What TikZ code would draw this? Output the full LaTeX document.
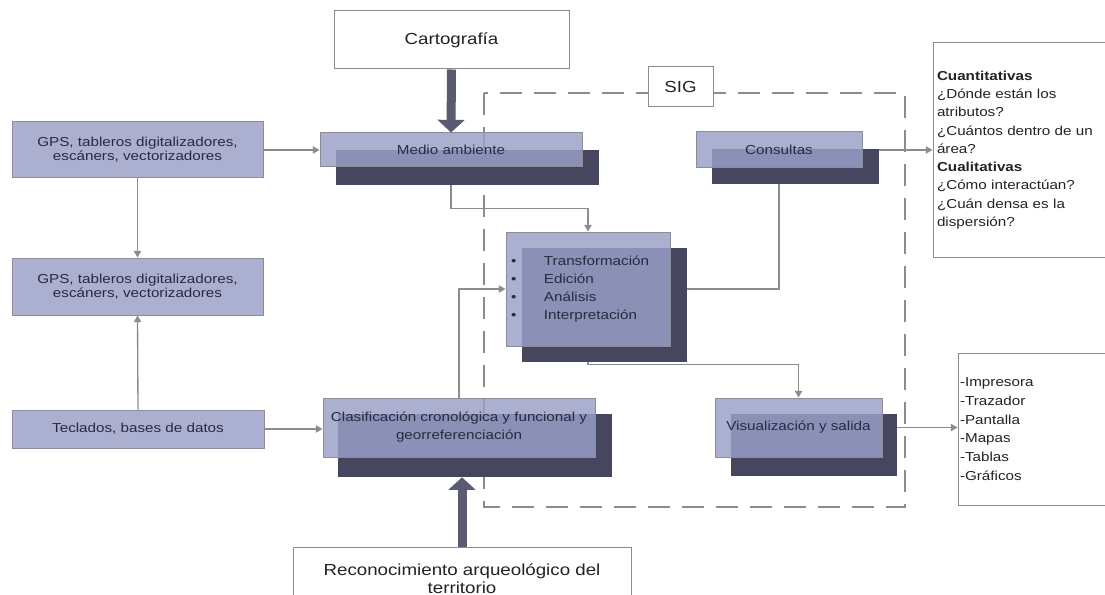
\documentclass[tikz,border=0pt]{standalone}
\usepackage{fontspec}
\setmainfont[FakeStretch=1.17]{Liberation Sans}
\usetikzlibrary{arrows.meta,calc}
\definecolor{lightfill}{RGB}{154,160,200}
\definecolor{shadowfill}{RGB}{70,70,95}
\definecolor{boxline}{RGB}{140,140,155}
\definecolor{conngray}{RGB}{140,140,140}
\definecolor{thickc}{RGB}{90,90,112}
\definecolor{navytext}{RGB}{40,42,66}
\definecolor{darktext}{RGB}{35,35,35}
\pgfdeclarelayer{bg}
\pgfsetlayers{bg,main}
\begin{document}
\begin{tikzpicture}[x=0.75pt,y=-0.75pt,
 lightbox/.style={draw=boxline,line width=0.75pt,fill=lightfill,fill opacity=0.83,text opacity=1,text=navytext,align=center,inner sep=0pt,font=\fontsize{9.75}{10.5}\selectfont},
 shadowbox/.style={fill=shadowfill,draw=none,inner sep=0pt},
 whitebox/.style={draw=conngray,line width=0.75pt,fill=white,text=darktext,inner sep=0pt},
 conn/.style={draw=conngray,line width=1pt},
 connarrow/.style={conn,-{Triangle[width=5.5pt,length=5pt]}},
 thickarrow/.style={draw=thickc,line width=6.75pt,-{Triangle[width=20pt,length=9.5pt]}},
 sigframe/.style={draw=conngray,line width=1.9pt,dash pattern=on 16.5pt off 9pt}
]
\useasboundingbox (0,0) rectangle (1105,595);

\begin{pgfonlayer}{bg}
\fill[white] (0,0) rectangle (1105,595);
\draw[sigframe] (484,93) rectangle (905,507);
\end{pgfonlayer}

% top and bottom white boxes
\node[whitebox,minimum width=176.25pt,minimum height=43.5pt,font=\fontsize{12}{14}\selectfont] (carto) at (451.5,40) {Cartografía};
\node[whitebox,minimum width=48.75pt,minimum height=30pt,font=\fontsize{12}{14}\selectfont] (sig) at (680.5,87) {SIG};
\node[whitebox,minimum width=253.5pt,minimum height=48pt,align=center,font=\fontsize{12}{13.5}\selectfont] (rec) at (462,579) {Reconocimiento arqueológico del\\territorio};

% left input boxes
\node[lightbox,minimum width=188.25pt,minimum height=42pt] (g1) at (137.5,150) {GPS, tableros digitalizadores,\\escáners, vectorizadores};
\node[lightbox,minimum width=188.25pt,minimum height=42.75pt] (g2) at (137.5,286.5) {GPS, tableros digitalizadores,\\escáners, vectorizadores};
\node[lightbox,minimum width=189pt,minimum height=28.5pt] (te) at (138,429) {Teclados, bases de datos};

% process boxes with shadows
\node[shadowbox,minimum width=197.25pt,minimum height=26.25pt] (maS) at (467.5,167.5) {};
\node[lightbox,minimum width=196.5pt,minimum height=25.5pt] (ma) at (451,150) {Medio ambiente};

\node[shadowbox,minimum width=125.25pt,minimum height=26.25pt] (csS) at (795.5,166.5) {};
\node[lightbox,minimum width=124.5pt,minimum height=27pt] (cs) at (779,150) {Consultas};

\node[shadowbox,minimum width=123.75pt,minimum height=85.5pt] (trS) at (604.5,305) {};
\node[lightbox,minimum height=85.5pt,text width=115.5pt,inner xsep=3.75pt,align=left,font=\fontsize{9.75}{13.7}\selectfont] (tr) at (588,289)
 {\makebox[24.75pt][l]{\textbullet}Transformación\\\makebox[24.75pt][l]{\textbullet}Edición\\\makebox[24.75pt][l]{\textbullet}Análisis\\\makebox[24.75pt][l]{\textbullet}Interpretación};

\node[shadowbox,minimum width=205.5pt,minimum height=47.25pt] (clS) at (475,445.5) {};
\node[lightbox,minimum width=204pt,minimum height=44.25pt,font=\fontsize{9.75}{13.5}\selectfont] (cl) at (459,427.5) {Clasificación cronológica y funcional y\\georreferenciación};

\node[shadowbox,minimum width=124.5pt,minimum height=46.5pt] (visS) at (814,445) {};
\node[lightbox,minimum width=125.25pt,minimum height=44.25pt] (vis) at (798.5,427.5) {Visualización y salida};

% right output boxes
\node[whitebox,text width=130.5pt,inner xsep=3pt,minimum height=160.5pt,align=left,font=\fontsize{9.75}{13.7}\selectfont] (quant) at (1024,150)
 {\textbf{Cuantitativas}\\¿Dónde están los\\atributos?\\¿Cuántos dentro de un\\área?\\\textbf{Cualitativas}\\¿Cómo interactúan?\\¿Cuán densa es la\\dispersión?};
\node[whitebox,text width=114.75pt,inner xsep=1.5pt,minimum height=114pt,align=left,font=\fontsize{9.75}{14}\selectfont] (out) at (1036.5,429)
 {-Impresora\\-Trazador\\-Pantalla\\-Mapas\\-Tablas\\-Gráficos};

% connectors
\begin{pgfonlayer}{bg}
\draw[connarrow] (g1.south) -- (g2.north);
\draw[connarrow] (te.north) -- (g2.south);
\draw[connarrow] (g1.east) -- (ma.west);
\draw[connarrow] (te.east) -- (te.east -| cl.west);
\draw[connarrow] (ma.south) -- ++(0,41) -| (tr.north);
\draw[connarrow] (cl.north) |- (tr.west);
\draw[conn] (cs.south) |- (tr.east);
\draw[connarrow] (cs.east) -- (cs.east -| quant.west);
\draw[connarrow] (tr.south) -- ++(0,18) -| (vis.north);
\draw[connarrow] (vis.east) -- (vis.east -| out.west);
\end{pgfonlayer}

% thick arrows
\draw[thickarrow] (carto.south) -- (ma.north);
\draw[thickarrow] (rec.north) -- (rec.north |- clS.south);
\end{tikzpicture}
\end{document}
